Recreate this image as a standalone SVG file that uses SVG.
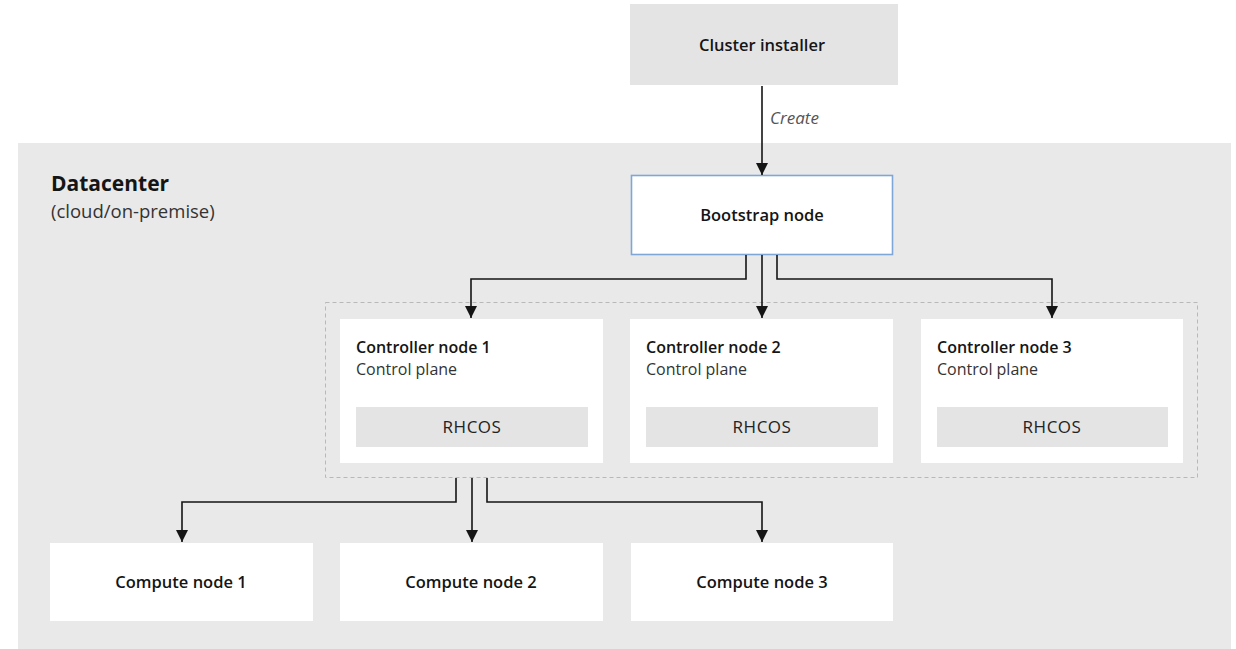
<svg xmlns="http://www.w3.org/2000/svg" width="1236" height="649" viewBox="0 0 1236 649">
  <defs>
    <marker id="arrow" viewBox="0 0 12 12" refX="12" refY="6" markerWidth="12" markerHeight="12" markerUnits="userSpaceOnUse" orient="auto">
      <path d="M0,0 L12,6 L0,12 Z" fill="#151515"/>
    </marker>
    <style>
      text { font-family: "Open Sans", "Liberation Sans", Arial, sans-serif; fill: #151515; }
      .label { font-size: 16.5px; font-weight: 600; }
      .title { font-size: 16px; font-weight: 600; }
      .sub { font-size: 16px; fill: #333; }
      .os { font-size: 17px; font-weight: 500; fill: #222; letter-spacing: 0.5px; }
      .box { fill: #ffffff; }
      .grey { fill: #e4e4e4; }
      .wire { fill: none; stroke: #151515; stroke-width: 1.6; }
    </style>
  </defs>

  <rect x="0" y="0" width="1236" height="649" fill="#ffffff"/>

  <!-- Datacenter area -->
  <g id="datacenter">
    <rect x="18" y="143" width="1213" height="506" fill="#e9e9e9"/>
    <text x="51" y="191" style="font-size:21px;font-weight:700">Datacenter</text>
    <text x="51" y="218" style="font-size:18.5px;fill:#333">(cloud/on-premise)</text>
  </g>

  <g id="cluster-installer">
    <rect class="grey" x="630" y="4" width="268" height="81"/>
    <text class="label" x="762" y="51" text-anchor="middle">Cluster installer</text>
  </g>

  <g id="bootstrap-node">
    <rect class="box" x="631.5" y="175.5" width="261" height="79" stroke="#7ea7d8" stroke-width="1.6"/>
    <text class="label" x="762" y="221" text-anchor="middle">Bootstrap node</text>
  </g>

  <!-- control plane group outline -->
  <g id="control-plane">
    <rect x="325.5" y="302.5" width="872" height="175" fill="none" stroke="#b8b8b8" stroke-width="1" stroke-dasharray="4 3"/>
  </g>

  <g id="controller-1">
    <rect class="box" x="340" y="319" width="263" height="144"/>
    <text class="title" x="356" y="353">Controller node 1</text>
    <text class="sub" x="356" y="375">Control plane</text>
    <rect class="grey" x="356" y="407" width="232" height="40"/>
    <text class="os" x="472" y="433" text-anchor="middle">RHCOS</text>
  </g>

  <g id="controller-2">
    <rect class="box" x="630" y="319" width="263" height="144"/>
    <text class="title" x="646" y="353">Controller node 2</text>
    <text class="sub" x="646" y="375">Control plane</text>
    <rect class="grey" x="646" y="407" width="232" height="40"/>
    <text class="os" x="762" y="433" text-anchor="middle">RHCOS</text>
  </g>

  <g id="controller-3">
    <rect class="box" x="921" y="319" width="262" height="144"/>
    <text class="title" x="937" y="353">Controller node 3</text>
    <text class="sub" x="937" y="375">Control plane</text>
    <rect class="grey" x="937" y="407" width="231" height="40"/>
    <text class="os" x="1052" y="433" text-anchor="middle">RHCOS</text>
  </g>

  <g id="compute-1">
    <rect class="box" x="50" y="543" width="263" height="78"/>
    <text class="label" x="181" y="588" text-anchor="middle">Compute node 1</text>
  </g>

  <g id="compute-2">
    <rect class="box" x="340" y="543" width="263" height="78"/>
    <text class="label" x="471" y="588" text-anchor="middle">Compute node 2</text>
  </g>

  <g id="compute-3">
    <rect class="box" x="631" y="543" width="262" height="78"/>
    <text class="label" x="762" y="588" text-anchor="middle">Compute node 3</text>
  </g>

  <!-- connectors -->
  <g id="connectors">
    <path class="wire" d="M762,86 V175" marker-end="url(#arrow)"/>
    <text x="770" y="124" style="font-size:17px;font-style:italic;fill:#555">Create</text>

    <path class="wire" d="M746,255 V279 H471 V318" marker-end="url(#arrow)"/>
    <path class="wire" d="M762,255 V318" marker-end="url(#arrow)"/>
    <path class="wire" d="M777,255 V279 H1052 V318" marker-end="url(#arrow)"/>

    <path class="wire" d="M456,478 V502 H182 V542" marker-end="url(#arrow)"/>
    <path class="wire" d="M472,478 V542" marker-end="url(#arrow)"/>
    <path class="wire" d="M487,478 V502 H762 V542" marker-end="url(#arrow)"/>
  </g>
</svg>
